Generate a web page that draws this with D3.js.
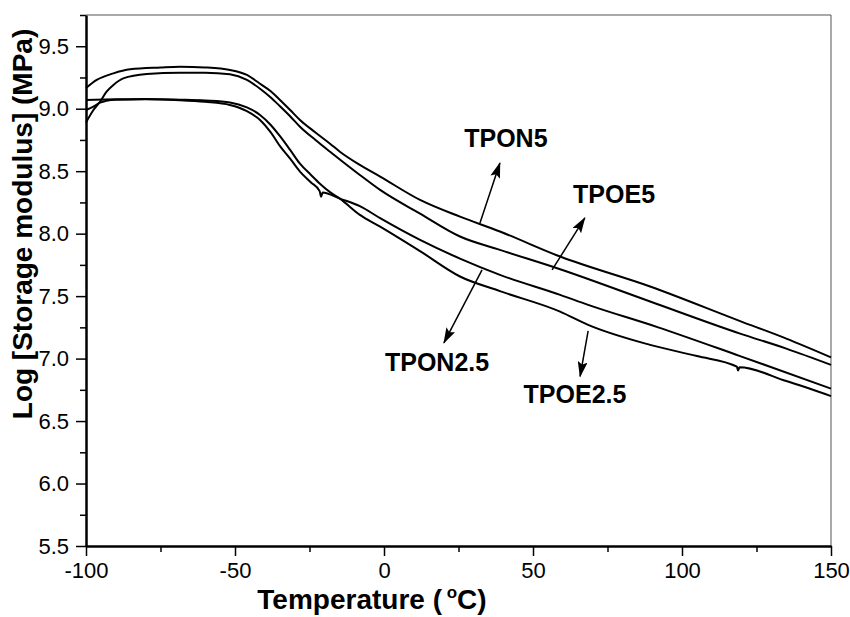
<!DOCTYPE html>
<html>
<head>
<meta charset="utf-8">
<script src="https://cdnjs.cloudflare.com/ajax/libs/d3/7.8.5/d3.min.js"></script>
<style>
  body { margin: 0; background: #fff; }
  svg { display: block; font-family: Arial, "Liberation Sans", sans-serif; }
</style>
</head>
<body>
<svg id="chart" width="850" height="617"></svg>
<script>
// data (temperature in degC, log storage modulus in MPa)
const tpon5Temp = [-100, -96.4, -90.8, -85.2, -75, -68.5, -60, -51.7, -46, -41.6, -38, -34.9, -31.5, -28.2, -23, -18.1, -14.8, -8.1, -1.3, 12.1, 25.5, 38.9, 59.1, 89.3, 119.5, 135, 150];
const tpon5 = [9.165, 9.23, 9.283, 9.315, 9.33, 9.336, 9.33, 9.31, 9.27, 9.20, 9.14, 9.07, 8.99, 8.91, 8.81, 8.72, 8.656, 8.55, 8.457, 8.27, 8.136, 8.017, 7.817, 7.577, 7.30, 7.16, 7.01];

const tpoe5Temp = [-100, -97.5, -95.3, -93.1, -90.8, -87.5, -79.6, -68.5, -60, -51.7, -46, -41.6, -38, -34.9, -31.5, -28.2, -23, -18.1, -8.1, -1.3, 12.1, 25.5, 38.9, 59.1, 89.3, 119.5, 135, 150];
const tpoe5 = [8.89, 8.99, 9.056, 9.136, 9.19, 9.243, 9.278, 9.288, 9.288, 9.275, 9.23, 9.16, 9.09, 9.02, 8.94, 8.856, 8.75, 8.656, 8.47, 8.35, 8.16, 7.977, 7.87, 7.715, 7.457, 7.20, 7.08, 6.95];

const tpon25Temp = [-100, -97.5, -95.3, -93.1, -90, -80, -68.5, -60, -51.7, -46, -41.6, -38, -34.9, -31.5, -28.2, -24.5, -21.6, -21.1, -20.6, -14.8, -8.1, -1.3, 12.1, 25.5, 38.9, 59.1, 68.5, 92, 119.5, 150];
const tpon25 = [8.99, 9.016, 9.048, 9.064, 9.072, 9.075, 9.068, 9.055, 9.03, 8.98, 8.91, 8.81, 8.70, 8.60, 8.497, 8.41, 8.34, 8.295, 8.33, 8.28, 8.22, 8.124, 7.95, 7.80, 7.67, 7.51, 7.43, 7.25, 7.02, 6.76];

const tpoe25Temp = [-100, -90, -80, -68.5, -60, -51.7, -46, -41.6, -38, -34.9, -31.5, -28.2, -24.5, -21.5, -18, -14.8, -8.1, -1.3, 12.1, 25.5, 38.9, 59.1, 68.5, 89.3, 105, 118.4, 118.8, 119.3, 135, 150];
const tpoe25 = [9.07, 9.075, 9.078, 9.072, 9.065, 9.05, 9.01, 8.95, 8.87, 8.78, 8.67, 8.56, 8.47, 8.40, 8.33, 8.28, 8.15, 8.056, 7.86, 7.657, 7.54, 7.376, 7.27, 7.11, 7.02, 6.935, 6.905, 6.93, 6.82, 6.70];

const xTicks = [-100, -50, 0, 50, 100, 150];
const yTicks = [5.5, 6.0, 6.5, 7.0, 7.5, 8.0, 8.5, 9.0, 9.5];

// labels with arrows
const labelNames = ['TPON5', 'TPOE5', 'TPON2.5', 'TPOE2.5'];
const labelPos = [[40.9, 8.694], [77.2, 8.246], [17.8, 6.902], [64.1, 6.646]];
const arrowFrom = [[32.2, 8.086], [56.4, 7.71], [32.9, 7.71], [68.5, 7.222]];
const arrowTo = [[38.9, 8.566], [67.4, 8.126], [20.1, 7.126], [65.8, 6.857]];

const series = [
  { name: 'TPON5', t: tpon5Temp, v: tpon5 },
  { name: 'TPOE5', t: tpoe5Temp, v: tpoe5 },
  { name: 'TPON2.5', t: tpon25Temp, v: tpon25 },
  { name: 'TPOE2.5', t: tpoe25Temp, v: tpoe25 }
];

const margin = { top: 15, right: 19, bottom: 71, left: 86 };
const svg = d3.select('#chart');
const W = +svg.attr('width'), H = +svg.attr('height');
const width = W - margin.left - margin.right;
const height = H - margin.top - margin.bottom;

const x = d3.scaleLinear().domain([-100, 150]).range([0, width]);
const y = d3.scaleLinear().domain([5.5, 9.75]).range([height, 0]);

const g = svg.append('g').attr('transform', `translate(${margin.left},${margin.top})`);

// frame top / right
g.append('line').attr('x1', 0).attr('x2', width).attr('y1', 0).attr('y2', 0)
  .attr('stroke', '#555').attr('stroke-width', 1);
g.append('line').attr('x1', width).attr('x2', width).attr('y1', 0).attr('y2', height)
  .attr('stroke', '#555').attr('stroke-width', 1);

// minor ticks
g.append('g')
  .attr('transform', `translate(0,${height})`)
  .call(d3.axisBottom(x).tickValues(d3.range(-75, 150, 50)).tickSize(6).tickFormat(''))
  .call(a => a.select('.domain').remove())
  .selectAll('line').attr('stroke-width', 1.5);
g.append('g')
  .call(d3.axisLeft(y).tickValues(d3.range(5.75, 9.76, 0.5)).tickSize(6).tickFormat(''))
  .call(a => a.select('.domain').remove())
  .selectAll('line').attr('stroke-width', 1.5);

// major axes
const xAxis = g.append('g')
  .attr('transform', `translate(0,${height})`)
  .call(d3.axisBottom(x).tickValues(xTicks).tickSize(10).tickSizeOuter(0).tickPadding(6).tickFormat(d => String(d)));
xAxis.select('.domain').attr('stroke-width', 2.5);
xAxis.selectAll('line').attr('stroke-width', 1.5);
xAxis.selectAll('text').attr('font-size', 22).attr('fill', '#000')
  .attr('font-family', 'Arial, "Liberation Sans", sans-serif');

const yAxis = g.append('g')
  .call(d3.axisLeft(y).tickValues(yTicks).tickSize(10).tickSizeOuter(0).tickPadding(7).tickFormat(d => d.toFixed(1)));
yAxis.select('.domain').attr('stroke-width', 2.5);
yAxis.selectAll('line').attr('stroke-width', 1.5);
yAxis.selectAll('text').attr('font-size', 22).attr('fill', '#000')
  .attr('font-family', 'Arial, "Liberation Sans", sans-serif');

// curves
const line = d3.line()
  .x(d => x(d[0]))
  .y(d => y(d[1]))
  .curve(d3.curveMonotoneX);

g.append('g').selectAll('path')
  .data(series)
  .enter().append('path')
  .attr('d', s => line(s.t.map((t, i) => [t, s.v[i]])))
  .attr('fill', 'none')
  .attr('stroke', '#000')
  .attr('stroke-width', 2)
  .attr('stroke-linejoin', 'round');

// arrow head marker
svg.append('defs').append('marker')
  .attr('id', 'head')
  .attr('markerUnits', 'userSpaceOnUse')
  .attr('markerWidth', 16).attr('markerHeight', 10)
  .attr('refX', 15).attr('refY', 5)
  .attr('orient', 'auto')
  .append('path')
  .attr('d', 'M0,0 L16,5 L0,10 L3,5 Z')
  .attr('fill', '#000');

g.append('g').selectAll('line')
  .data(labelNames)
  .enter().append('line')
  .attr('x1', (d, i) => x(arrowFrom[i][0]))
  .attr('y1', (d, i) => y(arrowFrom[i][1]))
  .attr('x2', (d, i) => x(arrowTo[i][0]))
  .attr('y2', (d, i) => y(arrowTo[i][1]))
  .attr('stroke', '#000')
  .attr('stroke-width', 1.5)
  .attr('marker-end', 'url(#head)');

g.append('g').selectAll('text')
  .data(labelNames)
  .enter().append('text')
  .attr('x', (d, i) => x(labelPos[i][0]))
  .attr('y', (d, i) => y(labelPos[i][1]))
  .attr('text-anchor', 'middle')
  .attr('font-size', 25)
  .attr('font-weight', 'bold')
  .text(d => d);

// axis titles
const xt = svg.append('text')
  .attr('x', 372).attr('y', 609)
  .attr('text-anchor', 'middle')
  .attr('font-size', 28)
  .attr('font-weight', 'bold');
xt.append('tspan').text('Temperature (');
xt.append('tspan').attr('font-size', 17).attr('dy', -11).text(' o');
xt.append('tspan').attr('dy', 11).text('C)');

svg.append('text')
  .attr('transform', 'translate(32,224) rotate(-90)')
  .attr('text-anchor', 'middle')
  .attr('font-size', 28)
  .attr('font-weight', 'bold')
  .text('Log [Storage modulus] (MPa)');
</script>
</body>
</html>
